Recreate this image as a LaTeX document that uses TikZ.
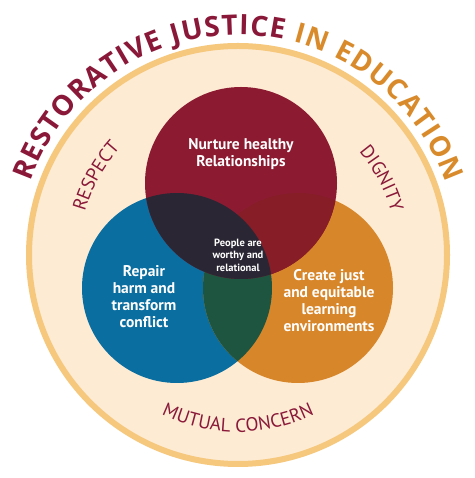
\documentclass[tikz,border=0pt]{standalone}
\usepackage{fontspec}
\setmainfont{PT Sans}
\newfontfamily\titlefont{Open Sans}
\usetikzlibrary{decorations.text,calc}
\definecolor{cream}{HTML}{FDEBD4}
\definecolor{ringcol}{HTML}{F6C87D}
\definecolor{jred}{HTML}{8C1B32}
\definecolor{jblue}{HTML}{0A6EA0}
\definecolor{jorange}{HTML}{D8862A}
\definecolor{jgreen}{HTML}{1E5541}
\definecolor{jredor}{HTML}{861D27}
\definecolor{jdark}{HTML}{2B2634}
\definecolor{tred}{HTML}{8A1838}
\definecolor{tor}{HTML}{D98B2B}
\tikzset{
  lbl/.style={text=white, font=\bfseries\fontsize{15.5}{17}\selectfont, align=center, inner sep=0pt},
  smalllbl/.style={text=white, font=\bfseries\fontsize{10.5}{12.5}\selectfont, align=center, inner sep=0pt},
}
\begin{document}
\begin{tikzpicture}[x=1pt,y=1pt]
\useasboundingbox (0,0) rectangle (474,478);
\fill[white] (0,0) rectangle (474,478);
\coordinate (c) at (238,223);
\coordinate (cr) at (241,295);
\coordinate (cb) at (177,190);
\coordinate (co) at (298,190);
% ring
\fill[cream] (c) circle[radius=209];
\draw[ringcol, line width=6] (c) circle[radius=209];
% circles
\fill[jblue] (cb) circle[radius=95];
\fill[jorange] (co) circle[radius=95];
\fill[jred] (cr) circle[radius=96];
\begin{scope}
  \clip (cb) circle[radius=95];
  \fill[jgreen] (co) circle[radius=95];
\end{scope}
\begin{scope}
  \clip (cr) circle[radius=96];
  \fill[jredor] (co) circle[radius=95];
  \fill[jdark] (cb) circle[radius=95];
\end{scope}
% title
\path[decorate, decoration={text along path, text align=center,
  text={|\titlefont\bfseries\fontsize{28}{28}\selectfont\color{tred}\kern1.1pt|RESTORATIVE JUSTICE |\titlefont\bfseries\fontsize{28}{28}\selectfont\color{tor}\kern1.1pt|IN EDUCATION}}]
  ($(c)+(180:220)$) arc[start angle=180, end angle=0, radius=220];
% ring words
\path[decorate, decoration={text along path, text align=center,
  text={|\fontsize{19}{19}\selectfont\color{tred}|RESPECT}}]
  ($(c)+(181:159)$) arc[start angle=181, end angle=121, radius=159];
\path[decorate, decoration={text along path, text align=center,
  text={|\fontsize{19}{19}\selectfont\color{tred}|DIGNITY}}]
  ($(c)+(58:159)$) arc[start angle=58, end angle=-2, radius=159];
\path[decorate, decoration={text along path, text align=center,
  text={|\fontsize{19}{19}\selectfont\color{tred}|MUTUAL CONCERN}}]
  ($(c)+(230:177)$) arc[start angle=230, end angle=310, radius=177];
% labels
\node[lbl] (nurture) at (241,324) {Nurture healthy\\Relationships};
\node[lbl] (repair) at (144,181) {Repair\\harm and\\transform\\conflict};
\node[lbl] (create) at (329,177) {Create just\\and equitable\\learning\\environments};
\node[smalllbl] (people) at (238,223) {People are\\worthy and\\relational};
\end{tikzpicture}
\end{document}
